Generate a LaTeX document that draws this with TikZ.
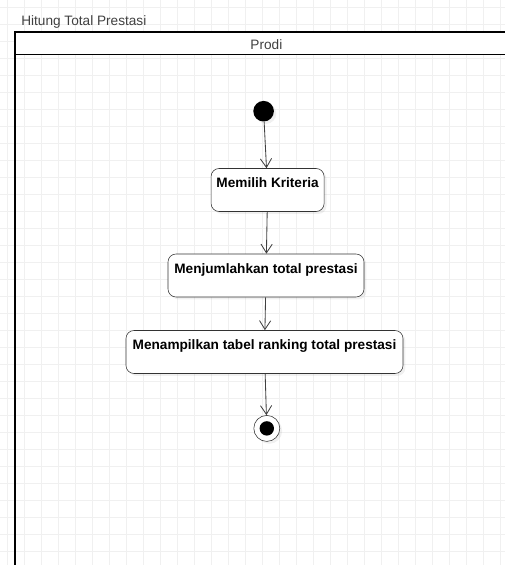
\documentclass[tikz,border=0pt]{standalone}
\usepackage{fontspec}
\setmainfont{Liberation Sans}
\usetikzlibrary{arrows.meta, positioning, shadows}

\begin{document}
\begin{tikzpicture}[>={Straight Barb[length=2.2mm,width=2.8mm]},
    box/.style={rectangle, draw=black!80, fill=white, rounded corners=0.2cm, inner xsep=0.1cm, inner ysep=0.2cm,
        text height=0.275cm, text depth=0.4cm, font=\fontsize{9.7}{11}\selectfont\bfseries,
        drop shadow={shadow xshift=0.06cm, shadow yshift=-0.06cm, opacity=0.12}},
    flow/.style={->, draw=black!75, line width=0.6pt}]

\useasboundingbox (0,0) rectangle (12.625,-14.125);
\clip (0,0) rectangle (12.625,-14.125);

% grid
\draw[black!6, line width=0.7pt, step=0.425, shift={(0.1875,-0.1875)}] (-0.5,0.5) grid (13,-14.5);

% swimlane
\draw[line width=1.4pt] (0.3675,-0.8) rectangle (13,-14.6);
\draw[line width=1.4pt, fill=white] (0.3675,-0.8) rectangle (13,-1.3625);
\node[anchor=base west, inner sep=0, font=\fontsize{9.7}{11}\selectfont, text=black!75] (judul) at (0.525,-0.65) {Hitung Total Prestasi};
\node[anchor=base, inner sep=0, font=\fontsize{9.7}{11}\selectfont, text=black!75] (lane) at (6.66,-1.25) {Prodi};

\node[circle, fill=black, minimum size=0.515cm, inner sep=0,
    drop shadow={shadow xshift=0.06cm, shadow yshift=-0.06cm, opacity=0.12}] (mulai) at (6.59,-2.78) {};

\node[box, minimum width=2.825cm] (pilih) at (6.69,-4.75) {Memilih Kriteria};
\node[box, minimum width=4.9cm] (jumlah) at (6.65,-6.8875) {Menjumlahkan total prestasi};
\node[box, minimum width=6.925cm] (tampil) at (6.6125,-8.8) {Menampilkan tabel ranking total prestasi};

\node[circle, draw=black!80, fill=white, minimum size=0.65cm, inner sep=0,
    drop shadow={shadow xshift=0.06cm, shadow yshift=-0.06cm, opacity=0.12}] (selesai) at (6.67,-10.71) {};
\node[circle, fill=black, minimum size=0.36cm, inner sep=0] (titik) at (selesai) {};

\draw[flow] (mulai) -- (pilih);
\draw[flow] (pilih) -- (jumlah);
\draw[flow] (jumlah) -- (tampil);
\draw[flow] (tampil) -- (selesai);

\end{tikzpicture}
\end{document}
